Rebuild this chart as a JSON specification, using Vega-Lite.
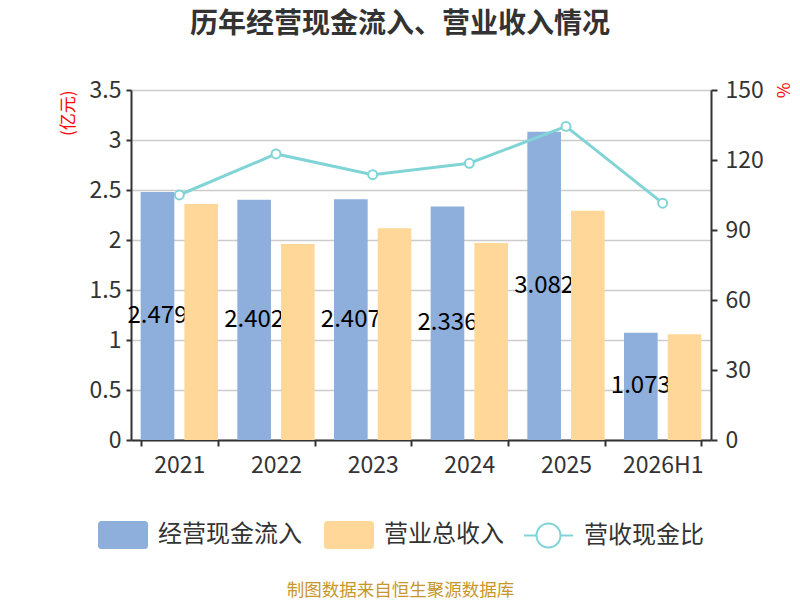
{
  "$schema": "https://vega.github.io/schema/vega-lite/v6.json",
  "width": 580,
  "height": 350,
  "autosize": {"type": "none"},
  "padding": {"left": 131, "top": 90, "right": 89, "bottom": 160},
  "background": "#ffffff",
  "title": {
    "text": "历年经营现金流入、营业收入情况",
    "fontSize": 28,
    "fontWeight": "bold",
    "color": "#333333",
    "anchor": "middle",
    "frame": "group",
    "dx": -21,
    "offset": 40
  },
  "data": {
    "values": [
      {"年份": "2021", "经营现金流入": 2.479, "营业总收入": 2.36, "营收现金比": 105.0},
      {"年份": "2022", "经营现金流入": 2.402, "营业总收入": 1.96, "营收现金比": 122.6},
      {"年份": "2023", "经营现金流入": 2.407, "营业总收入": 2.117, "营收现金比": 113.7},
      {"年份": "2024", "经营现金流入": 2.336, "营业总收入": 1.97, "营收现金比": 118.6},
      {"年份": "2025", "经营现金流入": 3.082, "营业总收入": 2.293, "营收现金比": 134.4},
      {"年份": "2026H1", "经营现金流入": 1.073, "营业总收入": 1.057, "营收现金比": 101.5}
    ]
  },
  "layer": [
    {
      "transform": [
        {"fold": ["经营现金流入", "营业总收入"], "as": ["series", "value"]},
        {"filter": "datum.series === '经营现金流入'"}
      ],
      "mark": {"type": "bar"},
      "encoding": {
        "x": {
          "field": "年份", "type": "nominal", "sort": null,
          "scale": {"paddingInner": 0.2, "paddingOuter": 0.1},
          "axis": {
            "labelAngle": 0, "labelFontSize": 23, "labelColor": "#333333", "labelPadding": 8,
            "tickBand": "extent", "tickSize": 6, "tickColor": "#333333", "tickWidth": 2,
            "domainColor": "#333333", "domainWidth": 2, "grid": false,
            "title": "制图数据来自恒生聚源数据库",
            "titleColor": "#c9962a", "titleFontSize": 17.5, "titleFontWeight": "normal",
            "titleX": 269, "titleY": 150, "titleAnchor": "middle", "titleAlign": "center", "titleBaseline": "middle"
          }
        },
        "xOffset": {
          "field": "series", "type": "nominal",
          "scale": {"domain": ["经营现金流入", "营业总收入"], "paddingInner": 0.23, "paddingOuter": 0}
        },
        "y": {
          "field": "value", "type": "quantitative",
          "scale": {"domain": [0, 3.5], "nice": false},
          "axis": {
            "orient": "left", "values": [0, 0.5, 1, 1.5, 2, 2.5, 3, 3.5], "format": "~g",
            "labelFontSize": 23, "labelColor": "#333333", "labelPadding": 5,
            "tickSize": 5, "tickColor": "#333333", "tickWidth": 2,
            "domainColor": "#333333", "domainWidth": 2,
            "grid": true, "gridColor": "#cccccc", "gridWidth": 1.5,
            "title": "(亿元)", "titleColor": "#ff0000", "titleFontSize": 17, "titleFontWeight": "normal",
            "titleAngle": -90, "titleX": -63, "titleY": 0, "titleAlign": "right", "titleBaseline": "middle"
          }
        },
        "color": {
          "field": "series", "type": "nominal",
          "scale": {
            "domain": ["经营现金流入", "营业总收入"],
            "range": ["#8eaedc", "#ffd899"]
          },
          "legend": {
            "orient": "none", "legendX": -33, "legendY": 420, "direction": "horizontal",
            "title": null, "padding": 0, "symbolSize": 2500, "labelFontSize": 24,
            "labelColor": "#333333", "labelOffset": 10, "columnPadding": 22,
            "symbolStrokeWidth": 0, "symbolOpacity": 1,
            "symbolType": "M-0.86,-0.56H0.86Q1,-0.56 1,-0.42V0.42Q1,0.56 0.86,0.56H-0.86Q-1,0.56 -1,0.42V-0.42Q-1,-0.56 -0.86,-0.56Z"
          }
        }
      }
    },
    {
      "transform": [
        {"fold": ["经营现金流入", "营业总收入"], "as": ["series", "value"]},
        {"filter": "datum.series === '经营现金流入'"}
      ],
      "mark": {"type": "text", "fontSize": 24, "color": "#000000", "baseline": "middle", "align": "center"},
      "encoding": {
        "x": {"field": "年份", "type": "nominal", "sort": null},
        "xOffset": {"field": "series", "type": "nominal"},
        "y": {
          "field": "value", "type": "quantitative",
          "scale": {"domain": [0, 7], "nice": false},
          "axis": null
        },
        "text": {"field": "value", "type": "quantitative", "format": ".3f"}
      }
    },
    {
      "transform": [
        {"fold": ["经营现金流入", "营业总收入"], "as": ["series", "value"]},
        {"filter": "datum.series === '营业总收入'"}
      ],
      "mark": {"type": "bar"},
      "encoding": {
        "x": {"field": "年份", "type": "nominal", "sort": null},
        "xOffset": {"field": "series", "type": "nominal"},
        "y": {
          "field": "value", "type": "quantitative",
          "scale": {"domain": [0, 3.5], "nice": false},
          "axis": null
        },
        "color": {"field": "series", "type": "nominal"}
      }
    },
    {
      "mark": {
        "type": "line", "strokeWidth": 3,
        "point": {"filled": false, "fill": "#ffffff", "size": 80, "strokeWidth": 2}
      },
      "encoding": {
        "x": {"field": "年份", "type": "nominal", "sort": null},
        "y": {
          "field": "营收现金比", "type": "quantitative",
          "scale": {"domain": [0, 150], "nice": false},
          "axis": {
            "orient": "right", "values": [0, 30, 60, 90, 120, 150],
            "labelFontSize": 23, "labelColor": "#333333", "labelPadding": 8,
            "tickSize": 6, "tickColor": "#333333", "tickWidth": 2,
            "domainColor": "#333333", "domainWidth": 2, "grid": false,
            "title": "%", "titleColor": "#ff0000", "titleFontSize": 17, "titleFontWeight": "normal",
            "titleAngle": 90, "titleX": 70, "titleY": -8, "titleAlign": "left", "titleBaseline": "middle"
          }
        },
        "stroke": {
          "datum": "营收现金比",
          "scale": {"domain": ["营收现金比"], "range": ["#80d4d6"]},
          "legend": {
            "orient": "none", "legendX": 392, "legendY": 420, "direction": "horizontal",
            "title": null, "padding": 0, "symbolSize": 2401, "labelFontSize": 24,
            "labelColor": "#333333", "labelOffset": 10,
            "symbolStrokeWidth": 2, "symbolFillColor": "#ffffff", "symbolStrokeColor": "#80d4d6",
            "symbolOpacity": 1,
            "symbolType": "M-1,0H-0.49M0.49,0H1M-0.49,0A0.49,0.49 0 1,1 0.49,0A0.49,0.49 0 1,1 -0.49,0Z"
          }
        }
      }
    }
  ],
  "resolve": {"scale": {"y": "independent"}},
  "config": {
    "font": "Noto Sans CJK SC",
    "view": {"stroke": null}
  }
}
